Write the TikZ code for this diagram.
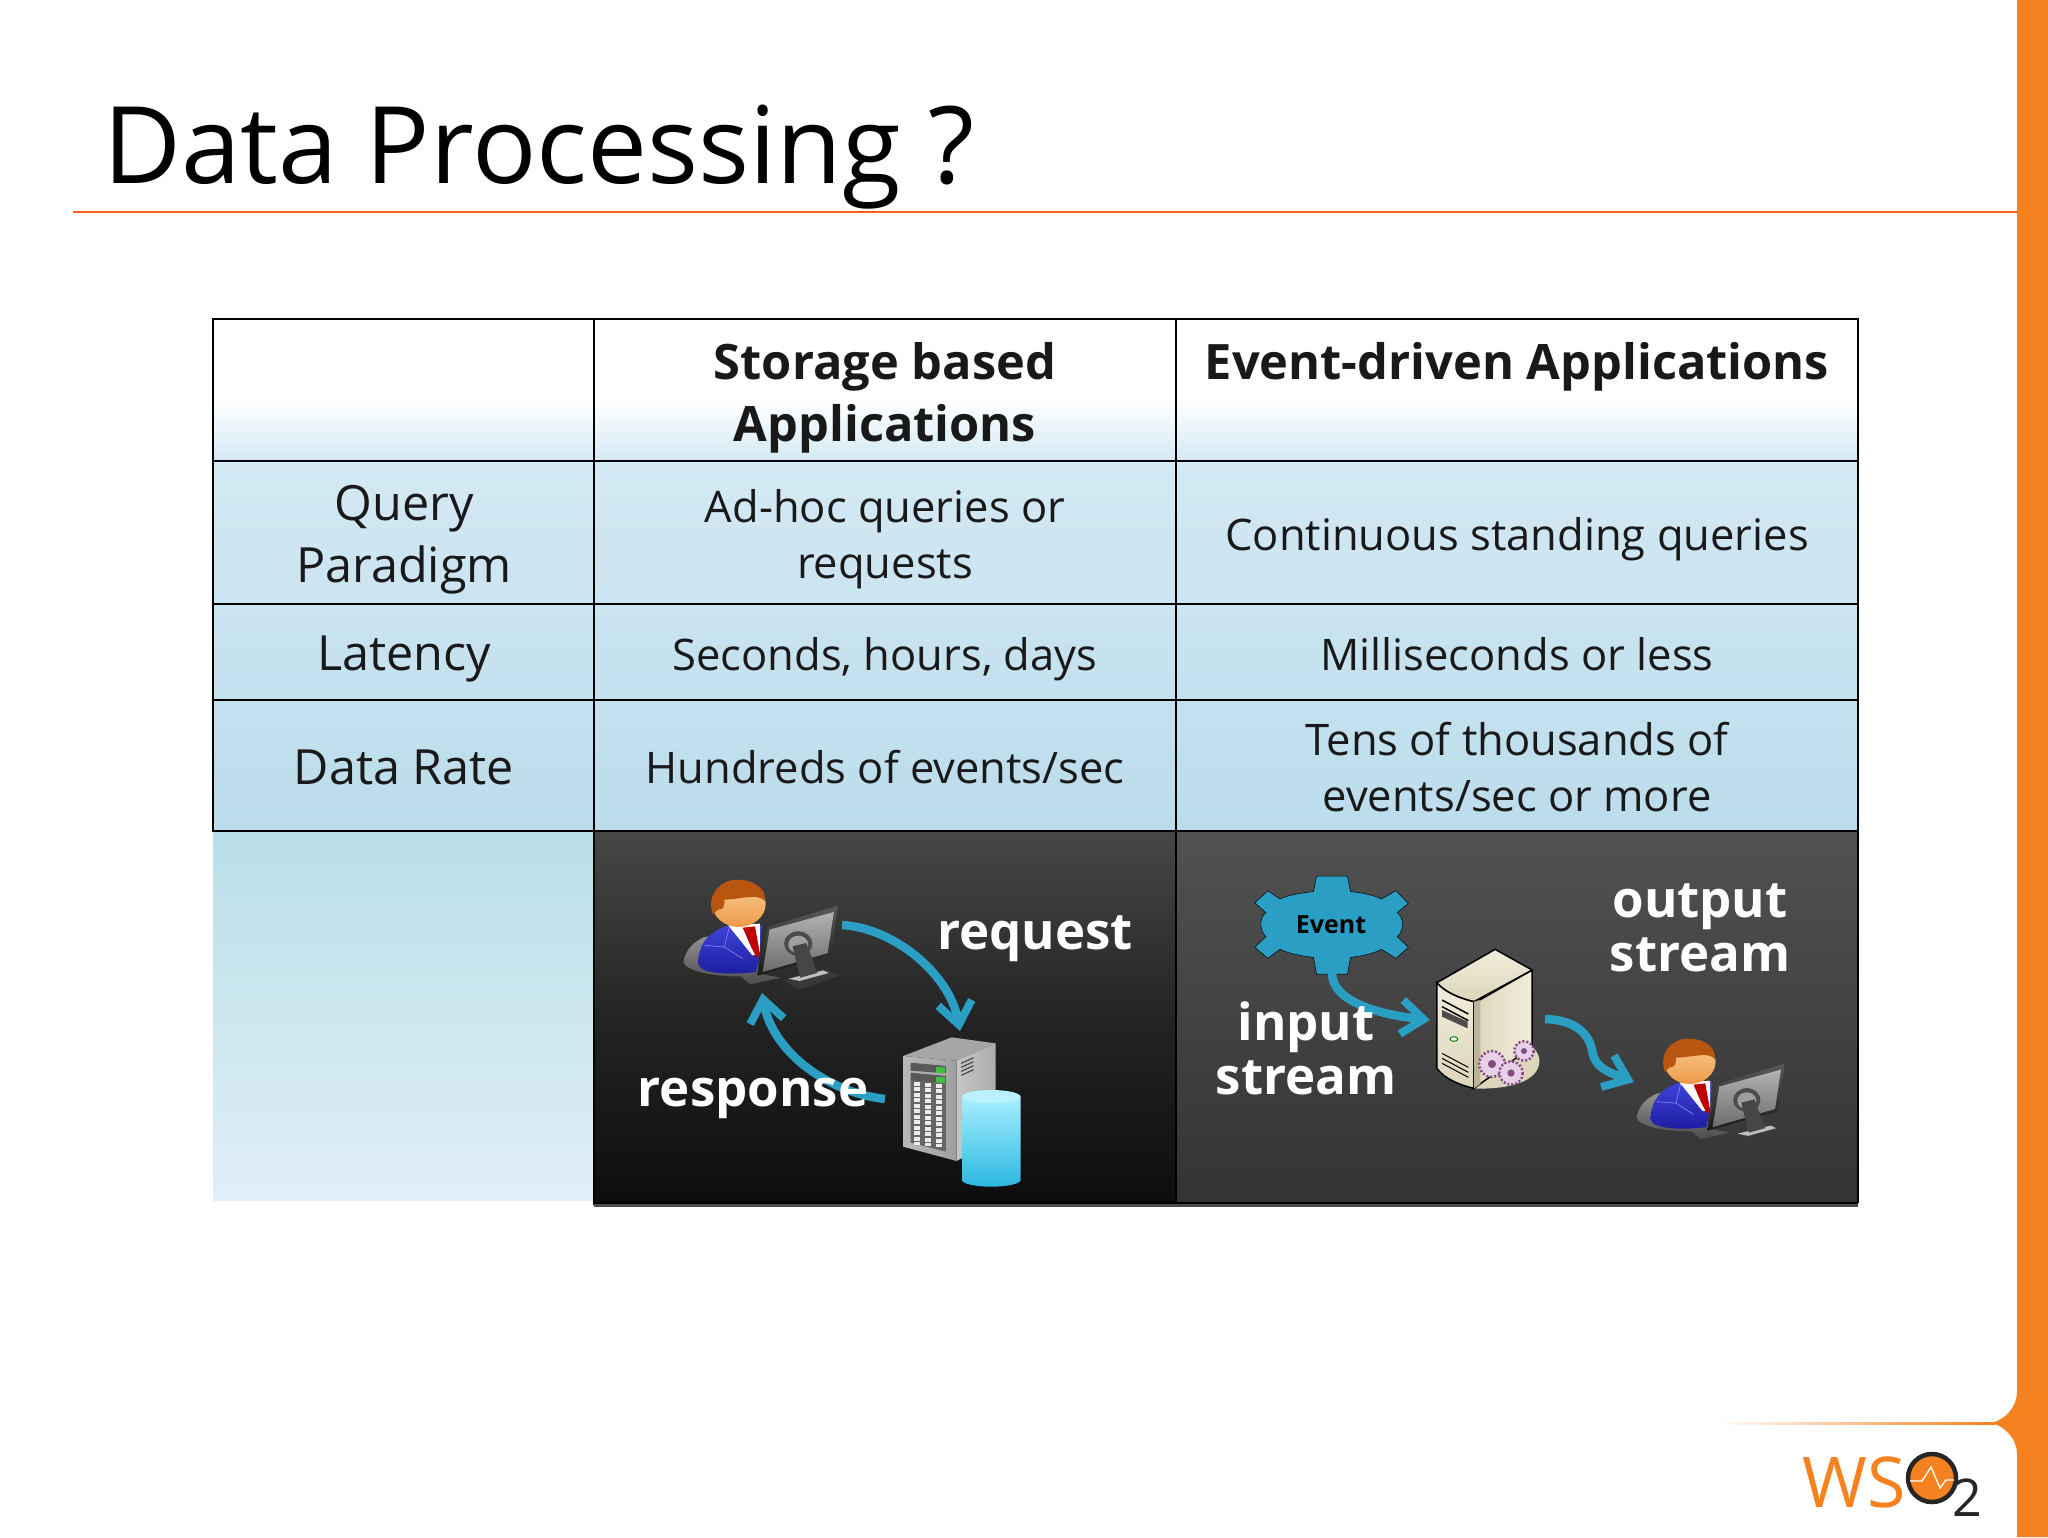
\documentclass[tikz,border=0pt]{standalone}
\usepackage{fontspec}
\setmainfont{Open Sans}
\usetikzlibrary{arrows.meta}
\definecolor{wsoorange}{HTML}{F58220}
\definecolor{flowteal}{HTML}{2A9FC3}
\definecolor{skintop}{HTML}{FAD09A}
\definecolor{skinlow}{HTML}{EE9A45}
\definecolor{hairbrown}{HTML}{B8560F}
\definecolor{suittop}{HTML}{3F44D8}
\definecolor{suitlow}{HTML}{1C1CA0}
\definecolor{rowpale}{HTML}{D4E9F4}
\definecolor{rowdeep}{HTML}{BBDCEB}
\definecolor{sidetop}{HTML}{B9DFE8}
\definecolor{sidelow}{HTML}{E0EEF8}
\definecolor{creamlight}{HTML}{F2EDDC}
\definecolor{creammid}{HTML}{DDD5BC}
\definecolor{creamdark}{HTML}{BDB497}
\definecolor{drumtop}{HTML}{A8EEFF}
\definecolor{drumlow}{HTML}{2CB8E2}
\tikzset{
every picture/.style={
line width=1pt
}}
\tikzset{
user/.pic={
  \begin{scope}[xscale=.3827,yscale=1/3,shift={(-385,-215)}]
  \shade[top color=gray!80,bottom color=gray!60!black] (245,395) .. controls (250,360) and (270,335) .. (300,320) -- (440,300) -- (440,430) -- (500,442) -- (420,462) -- (395,438) .. controls (320,440) and (250,420) .. (245,395) -- cycle;
  \shade[top color=suittop,bottom color=suitlow] (283,400) .. controls (285,340) and (310,305) .. (362,285) -- (450,285) -- (445,370) -- (435,425) .. controls (380,432) and (290,435) .. (283,400) -- cycle;
  \fill[white] (362,285) -- (445,280) -- (445,370) -- (425,375) -- cycle;
  \fill[red!75!black] (400,292) -- (432,288) -- (445,370) -- (437,385) -- (418,340) -- cycle;
  \draw[blue!45!white,line width=.6pt] (300,345) -- (352,350) -- (365,290) (352,350) -- (400,385);
  \shade[top color=skintop,bottom color=skinlow] (390,220) ellipse (70 and 70);
  \fill[hairbrown] (322,252) .. controls (303,190) and (345,148) .. (385,148) .. controls (430,148) and (462,175) .. (458,212) .. controls (440,188) and (400,206) .. (352,208) .. controls (352,225) and (352,238) .. (335,238) -- cycle;
  \shade[top color=gray!70!black,bottom color=black!80!gray] (437,436) -- (465,290) -- (648,226) -- (632,375) -- cycle;
  \shade[top color=gray!60,bottom color=gray!85!black] (452,425) -- (470,298) -- (638,245) -- (622,368) -- cycle;
  \fill[gray!60!black] (545,340) ellipse (37 and 37);
  \fill[gray!75] (545,342) ellipse (26 and 26);
  \fill[gray!45!black] (505,450) -- (620,418) -- (652,435) -- (550,478) -- cycle;
  \fill[gray!50] (520,445) -- (610,420) -- (625,428) -- (548,452) -- cycle;
  \fill[gray!55!black] (530,348) -- (566,338) -- (595,428) -- (550,442) -- cycle;
  \end{scope}
},
rackserver/.pic={
  \begin{scope}[xscale=.3827,yscale=1/3]
  \fill[gray!70!white] (818,678) -- (945,622) -- (1060,640) -- (958,692) -- cycle;
  \shade[left color=gray!45,right color=gray!65] (958,692) -- (1060,640) -- (1060,930) -- (958,993) -- cycle;
  \shade[left color=gray!55,right color=gray!75] (818,678) -- (958,692) -- (958,993) -- (818,950) -- cycle;
  \fill[gray!70!black] (838,698) -- (930,708) -- (930,730) -- (838,722) -- cycle;
  \fill[gray!70!black] (838,728) -- (930,738) -- (930,760) -- (838,752) -- cycle;
  \fill[green!50!gray] (905,712) rectangle (928,728);
  \fill[green!50!gray] (905,742) rectangle (928,758);
  \fill[gray!80!black] (838,750) -- (930,760) -- (930,965) -- (838,938) -- cycle;
  \foreach \gx/\gy in {855/755,882/758,912/761}
    \draw[gray!15,line width=6pt,dash pattern=on 4pt off 1.5pt] (\gx,\gy) -- (\gx,\gy+190);
  \foreach \gy in {0,1,2,3}
    \draw[gray!60!black,line width=1.2pt] (970,700+\gy*12) -- (1002,683+\gy*12);
  \shade[top color=drumtop,bottom color=drumlow] (972,800) -- (972,1050) arc[start angle=180,end angle=0,x radius=76.5,y radius=20] -- (1125,800) -- cycle;
  \fill[drumtop!80!white] (1048.5,800) ellipse (76.5 and 20);
  \end{scope}
},
gearwheel/.pic={
  \draw[gray!60!violet,line width=2.5pt,dash pattern=on 2pt off 2pt,fill=violet!18!white] (0,0) circle (13);
  \fill[gray!60!violet] (0,0) circle (4);
},
eventserver/.pic={
  \begin{scope}[xscale=.425,yscale=1/3]
  \fill[creammid] (675,775) -- (812,650) .. controls (840,680) and (835,730) .. (790,755) .. controls (760,772) and (710,778) .. (675,775) -- cycle;
  \shade[left color=creammid,right color=creamlight,draw=black,line width=1.5pt] (675,520) -- (812,420) -- (812,650) -- (675,775) -- cycle;
  \shade[top color=creamlight,bottom color=creammid,draw=black,line width=1.5pt] (588,458) -- (725,358) -- (812,420) -- (675,515) .. controls (640,505) and (605,485) .. (588,458) -- cycle;
  \shade[top color=creamlight,bottom color=creammid,draw=black,line width=1.5pt] (588,458) .. controls (605,485) and (640,505) .. (675,515) -- (675,775) .. controls (640,765) and (605,745) .. (588,715) -- cycle;
  \fill[creamdark] (675,515) -- (690,510) -- (690,762) -- (675,775) -- cycle;
  \draw[black,line width=1.5pt] (600,510) -- (662,552) (600,530) -- (662,572);
  \fill[gray!60!black] (600,540) -- (660,575) -- (660,595) -- (600,560) -- cycle;
  \draw[green!50!black,fill=white,line width=1pt] (628,627) ellipse (9 and 7);
  \draw[black,line width=1pt] (600,670) -- (662,712) (600,685) -- (662,727) (600,700) -- (662,742);
  \end{scope}
  \pic at (305,234) {gearwheel};
  \pic[scale=.75] at (337,221) {gearwheel};
  \pic[scale=.9] at (324,243) {gearwheel};
},
eventgear/.pic={
  \begin{scope}[xscale=.4412,yscale=1/3,shift={(-350,-285)}]
  \path[fill=flowteal,draw=black,line width=.5pt] (315,138) -- (385,138) -- (392,185) .. controls (420,188) and (445,196) .. (462,207) -- (495,182) -- (523,220) -- (498,248) .. controls (512,262) and (515,300) .. (498,320) -- (523,352) -- (495,385) -- (462,358) .. controls (445,370) and (420,378) .. (392,382) -- (385,432) -- (315,432) -- (308,382) .. controls (280,378) and (250,370) .. (232,358) -- (205,385) -- (175,352) -- (200,320) .. controls (185,300) and (185,262) .. (200,248) -- (175,218) -- (205,182) -- (232,207) .. controls (250,196) and (280,188) .. (308,185) -- cycle;
  \end{scope}
},
wsodisc/.pic={
  \draw[black!85,line width=4.5pt,fill=wsoorange] (0,0) circle (24);
  \draw[white,line width=1.3pt] (-22,3) -- (-10,3) -- (-1,-11) -- (8,10) -- (14,2) -- (22,2);
}}
\begin{document}
\begin{tikzpicture}[x=1pt,y=-1pt,
cell/.style = {align=center, font=\fontsize{43.5}{56}\selectfont, text=black!90},
headcell/.style = {align=center, font=\fontsize{48.8}{62}\selectfont\bfseries, text=black!90},
sidecell/.style = {align=center, font=\fontsize{48.5}{62}\selectfont, text=black!90},
panellabel/.style = {align=center, font=\fontsize{51}{54}\selectfont\bfseries, text=white},
flow/.style = {draw=flowteal, line width=8.5pt, -{Straight Barb[length=22pt,width=34pt,line width=8pt]}},
rule/.style = {draw=black, line width=2.5pt}]
\useasboundingbox (0,0) rectangle (2048,1537);

% slide frame
\fill[wsoorange] (2017,0) -- (2048,0) -- (2048,1537) -- (2017,1537) -- (2017,1455) .. controls (2017,1438) and (2005,1427) .. (1992,1423) .. controls (2005,1419) and (2017,1408) .. (2017,1391) -- cycle;
\fill[left color=white,right color=wsoorange] (1715,1422) rectangle (1995,1424);
\fill[wsoorange!75!red] (73,211) rectangle (2018,213);
\node[anchor=base west, inner sep=0, font=\fontsize{107}{107}\selectfont, text=black] (title) at (103,183) {Data Processing ?};

% table backgrounds
\shade[top color=white,bottom color=rowpale] (213,400) rectangle (1858,461);
\shade[top color=rowpale,bottom color=rowdeep] (213,461) rectangle (1858,831);
\shade[top color=sidetop,bottom color=sidelow] (213,831) rectangle (594,1200);
\shade[top color=black!72,bottom color=black!95,middle color=black!86] (594,831) rectangle (1176,1205);
\shade[top color=black!68,bottom color=black!80] (1176,831) rectangle (1858,1205);

% table lines
\draw[rule] (213,319) rectangle (1858,831);
\draw[rule] (594,319) -- (594,831);
\draw[rule] (1176,319) -- (1176,1203);
\draw[rule] (213,461) -- (1858,461);
\draw[rule] (213,604) -- (1858,604);
\draw[rule] (213,700) -- (1858,700);
\draw[rule] (594,1203) -- (1858,1203);
\draw[rule] (594,831) -- (594,1205);
\draw[rule] (1858,831) -- (1858,1203);
\fill[black!70] (594,1204) rectangle (1858,1207);

% table texts
\node[headcell] (storagehead) at (885,398) {Storage based\\Applications};
\node[headcell] (eventhead) at (1517,367) {Event-driven Applications};
\node[sidecell] (paradigm) at (404,540) {Query\\Paradigm};
\node[sidecell] (latency) at (404,659) {Latency};
\node[sidecell] (rate) at (404,767) {Data Rate};
\node[cell] (adhoc) at (885,539) {Ad-hoc queries or\\requests};
\node[cell] (standing) at (1517,539) {Continuous standing queries};
\node[cell] (seconds) at (885,659) {Seconds, hours, days};
\node[cell] (millis) at (1517,654) {Milliseconds or less};
\node[cell] (hundreds) at (885,767) {Hundreds of events/sec};
\node[cell] (tens) at (1517,767) {Tens of thousands of\\events/sec or more};

% storage based panel
\pic (clientleft) at (737,902) {user};
\pic (rack) at (590,830) {rackserver};
\coordinate (reqstart) at (842,925);
\coordinate (reqend) at (960,1031);
\coordinate (respstart) at (885,1099);
\coordinate (respend) at (762,993);
\draw[flow] (reqstart) .. controls (895,928) and (950,975) .. (reqend);
\draw[flow] (respstart) .. controls (825,1092) and (772,1050) .. (respend);
\node[panellabel] (request) at (1035,939) {request};
\node[panellabel] (response) at (753,1098) {response};

% event driven panel
\pic (eventshape) at (1332,925) {eventgear};
\node[inner sep=0, font=\fontsize{25}{28}\selectfont\bfseries, text=black] (event) at (1331,925) {Event};
\pic (engine) at (1187,830) {eventserver};
\pic[scale=.96] (clientright) at (1688,1060) {user};
\coordinate (instart) at (1332,973);
\coordinate (inend) at (1430,1020);
\coordinate (outstart) at (1545,1019);
\coordinate (outmid) at (1592,1050);
\coordinate (outend) at (1634,1082);
\draw[flow] (instart) .. controls (1332,1003) and (1383,1015) .. (inend);
\draw[flow] (outstart) .. controls (1577,1020) and (1589,1035) .. (outmid) .. controls (1595,1070) and (1612,1073) .. (outend);
\node[panellabel] (input) at (1306,1048) {input\\stream};
\node[panellabel] (output) at (1700,928) {output\\stream};

% logo
\node[inner sep=0, anchor=base west, font=\fontsize{70}{70}\selectfont, text=wsoorange] (wsotext) at (1802,1507) {WS};
\pic (wsomark) at (1932,1478) {wsodisc};
\node[inner sep=0, font=\fontsize{52}{52}\selectfont, text=black!85] (wsotwo) at (1967,1498) {2};
\end{tikzpicture}
\end{document}
